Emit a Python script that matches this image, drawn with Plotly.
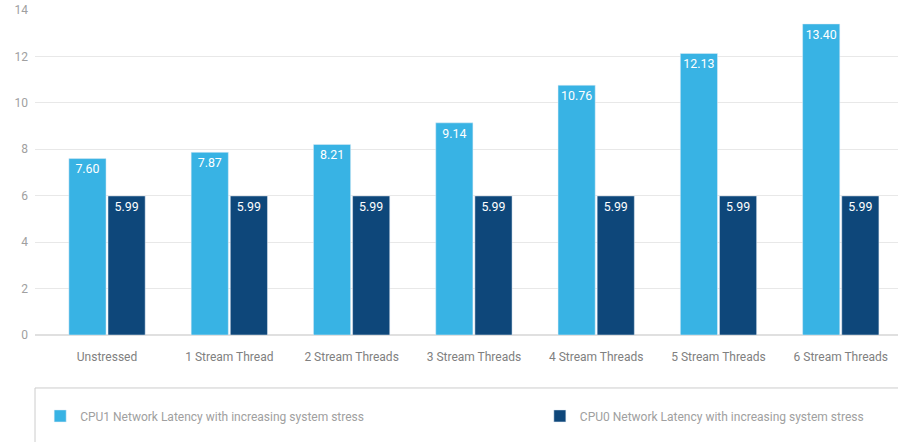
import plotly.graph_objects as go

categories = ["Unstressed", "1 Stream Thread", "2 Stream Threads", "3 Stream Threads",
              "4 Stream Threads", "5 Stream Threads", "6 Stream Threads"]
cpu1 = [7.60, 7.87, 8.21, 9.14, 10.76, 12.13, 13.40]
cpu0 = [5.99, 5.99, 5.99, 5.99, 5.99, 5.99, 5.99]
name1 = "CPU1 Network Latency with increasing system stress"
name0 = "CPU0 Network Latency with increasing system stress"

LIGHT = "#38b3e4"
DARK = "#0e477a"
FONT = "Roboto, Liberation Sans, Arial, sans-serif"

fig = go.Figure()
fig.add_trace(go.Bar(x=categories, y=cpu1, name=name1, marker_color=LIGHT,
                     texttemplate="%{y:.2f}", textposition="inside",
                     insidetextanchor="end", textangle=0, legend="legend",
                     textfont=dict(color="white", size=12.5, family=FONT)))
fig.add_trace(go.Bar(x=categories, y=cpu0, name=name0, marker_color=DARK,
                     texttemplate="%{y:.2f}", textposition="inside",
                     insidetextanchor="end", textangle=0, legend="legend2",
                     textfont=dict(color="white", size=12.5, family=FONT)))

legend_common = dict(orientation="h", xanchor="left", y=-0.249, yanchor="middle",
                     font=dict(color="#a0a0a0", size=12), bgcolor="rgba(0,0,0,0)")

fig.update_layout(
    width=898, height=442,
    margin=dict(l=35, r=0, t=10, b=107),
    plot_bgcolor="white", paper_bgcolor="white",
    barmode="group", bargap=0.36, bargroupgap=0.05,
    uniformtext=dict(minsize=12, mode="show"),
    font=dict(family=FONT, color="#999999", size=12),
    xaxis=dict(range=[-0.589, 6.468], showgrid=False, showline=False,
               tickfont=dict(color="#808080", size=12), ticklabelstandoff=13),
    yaxis=dict(range=[0, 14], dtick=2, showgrid=True, gridcolor="#e8e8e8",
               zeroline=True, zerolinecolor="#e0e0e0", showline=False,
               tickfont=dict(color="#a0a0a0", size=12), ticklabelstandoff=6),
    showlegend=True,
    legend=dict(x=0.006, **legend_common),
    legend2=dict(x=0.585, **legend_common),
    shapes=[dict(type="rect", xref="paper", yref="paper",
                 x0=0, x1=1.05, y0=-0.163, y1=-0.40,
                 line=dict(color="#cccccc", width=1), fillcolor="rgba(0,0,0,0)")],
)

fig.write_html("out.html")
